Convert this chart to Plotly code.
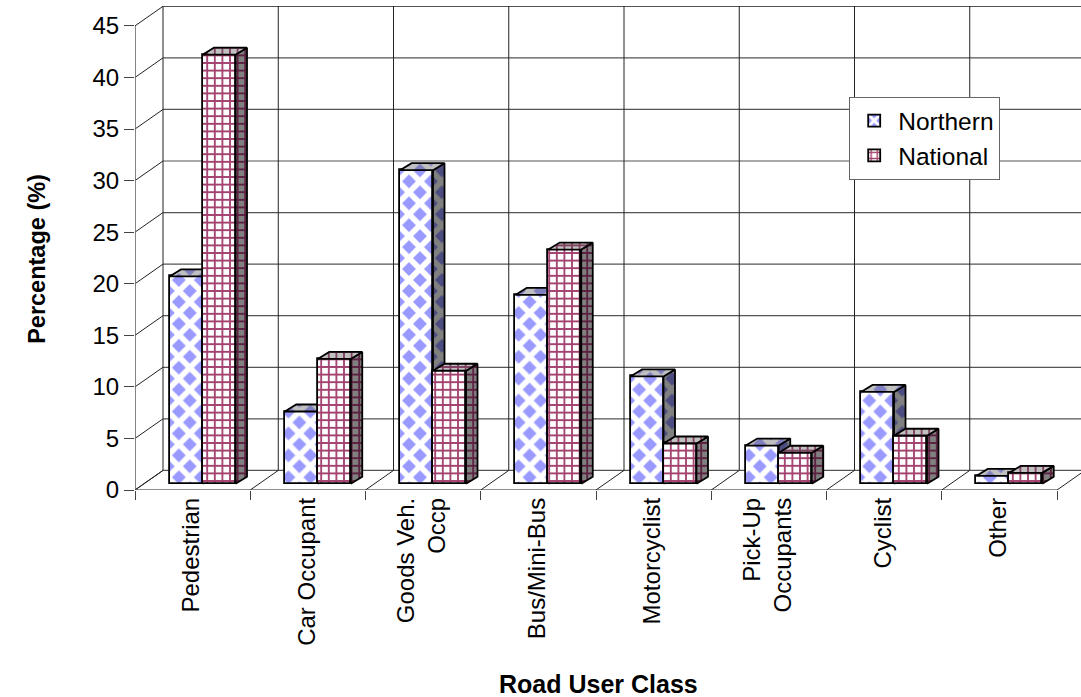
import plotly.graph_objects as go

categories = ["Pedestrian", "Car Occupant", "Goods Veh.<br>Occp", "Bus/Mini-Bus", "Motorcyclist",
              "Pick-Up<br>Occupants", "Cyclist", "Other"]
northern = [20.1, 7.0, 30.4, 18.3, 10.4, 3.7, 8.9, 0.75]
national = [41.6, 12.1, 10.95, 22.7, 3.9, 3.0, 4.65, 1.05]
y_ticks = [0, 5, 10, 15, 20, 25, 30, 35, 40, 45]

# pseudo-3D geometry, in axis units
PX_X = 115.25
PX_Y = 10.32
WALL_DX, WALL_DY = 28 / PX_X, 19.6 / PX_Y
BAR_DX, BAR_DY = 11.5 / PX_X, 7 / PX_Y
BASE = 6.3 / PX_Y
BAR_W = 33 / PX_X
BAR_START = 34.5 / PX_X
X_MAX = 946 / PX_X
Y_MAX = 484.3 / PX_Y

LINE = "#555555"
FONT = "Liberation Sans, Arial, sans-serif"

blue = dict(shape="x", fgcolor="white", bgcolor="#9999ff", size=15.5, solidity=0.6, fgopacity=1)
red = dict(shape="+", fgcolor="#a3416f", bgcolor="white", size=7.6, solidity=0.42, fgopacity=1)


def face(x, y, fill, pat, z):
    return go.Scatter(x=x, y=y, mode="lines", fill="toself", fillcolor=fill, fillpattern=pat,
                      line=dict(color="black", width=1.8), showlegend=False, hoverinfo="skip", zorder=z)


fig = go.Figure()

series = [
    ("Northern", northern, 0, blue,
     dict(shape="x", fgcolor="#808080", bgcolor="#4c4c80", size=15.5, solidity=0.6, fgopacity=1),
     dict(shape="x", fgcolor="#c0c0c0", bgcolor="#8080c0", size=15.5, solidity=0.6, fgopacity=1), 1),
    ("National", national, 1, red,
     dict(shape="+", fgcolor="#5c2040", bgcolor="#808080", size=7.6, solidity=0.42, fgopacity=1),
     dict(shape="+", fgcolor="#804060", bgcolor="#c0c0c0", size=7.6, solidity=0.42, fgopacity=1), 2),
]

for name, values, slot, pat, side_pat, top_pat, z in series:
    left = [i + BAR_START + slot * BAR_W for i in range(len(categories))]
    for l, v in zip(left, values):
        r = l + BAR_W
        top = BASE + v
        fig.add_trace(face([r, r + BAR_DX, r + BAR_DX, r, r], [BASE, BASE + BAR_DY, top + BAR_DY, top, BASE],
                           "#808080", side_pat, z))
        fig.add_trace(face([l, l + BAR_DX, r + BAR_DX, r, l], [top, top + BAR_DY, top + BAR_DY, top, top],
                           "#c0c0c0", top_pat, z))
    fig.add_trace(go.Bar(x=list(range(len(categories))), y=values, base=BASE,
                         offset=BAR_START + slot * BAR_W, width=BAR_W, name=name,
                         marker=dict(color="white", pattern=pat, line=dict(color="black", width=1.8)),
                         legendgroup=name, zorder=z, hoverinfo="skip"))

shapes = []


def seg(x0, y0, x1, y1, color=LINE, width=1.2):
    shapes.append(dict(type="line", xref="x", yref="y", x0=x0, y0=y0, x1=x1, y1=y1, layer="below",
                       line=dict(color=color, width=width)))


for t in y_ticks:
    seg(WALL_DX, t + WALL_DY, X_MAX, t + WALL_DY)
    seg(0, t, WALL_DX, t + WALL_DY, "#222222", 1)
for k in range(len(categories) + 1):
    seg(k + WALL_DX, WALL_DY, k + WALL_DX, Y_MAX, "#222222", 1)
    seg(k, 0, k + WALL_DX, WALL_DY, "#222222", 1)
seg(0, 0, 0, y_ticks[-1], "#666666", 1.6)
seg(0, 0, len(categories), 0, "#222222", 1.2)

fig.update_layout(
    width=1081, height=697, autosize=False,
    margin=dict(l=135, r=0, t=6, b=206.7),
    paper_bgcolor="white", plot_bgcolor="white",
    barmode="overlay", bargap=0,
    font=dict(family=FONT, size=24, color="black"),
    shapes=shapes,
    xaxis=dict(range=[0, X_MAX], tickmode="array", tickvals=[i + 0.49 for i in range(len(categories))],
               ticktext=categories, tickangle=-90, ticks="", showgrid=False, zeroline=False, showline=False,
               ticklabelstandoff=2, tickfont=dict(size=24),
               minor=dict(tickmode="array", tickvals=list(range(len(categories) + 1)), ticks="outside",
                          ticklen=9, tickcolor="#444444", tickwidth=1, showgrid=False),
               automargin=False),
    yaxis=dict(range=[0, Y_MAX], tickmode="array", tickvals=y_ticks, ticks="outside", ticklen=10,
               tickcolor="#444444", showgrid=False, zeroline=False, showline=False, tickfont=dict(size=24),
               ticklabelstandoff=0, automargin=False),
    legend=dict(x=(849 - 135) / 946, y=1 - (97 - 6) / 484.3, xanchor="left", yanchor="top",
                bgcolor="white", bordercolor="#666666", borderwidth=1.2, tracegroupgap=12,
                itemwidth=38, entrywidth=150, entrywidthmode="pixels",
                font=dict(size=24.5), traceorder="normal"),
    annotations=[
        dict(text="<b>Road User Class</b>", xref="paper", yref="paper", x=(598 - 135) / 946,
             y=-(684 - 490.3) / 484.3, yanchor="middle", xanchor="center", showarrow=False, font=dict(size=25)),
        dict(text="<b>Percentage (%)</b>", xref="paper", yref="paper", x=-(135 - 37) / 946,
             y=(490.3 - 259) / 484.3, yanchor="middle", xanchor="center", showarrow=False, textangle=-90,
             font=dict(size=23.5)),
    ],
)

fig.write_html("out.html", config={"displayModeBar": False},
               post_script="document.body.style.margin='0';document.body.style.overflow='hidden';")
